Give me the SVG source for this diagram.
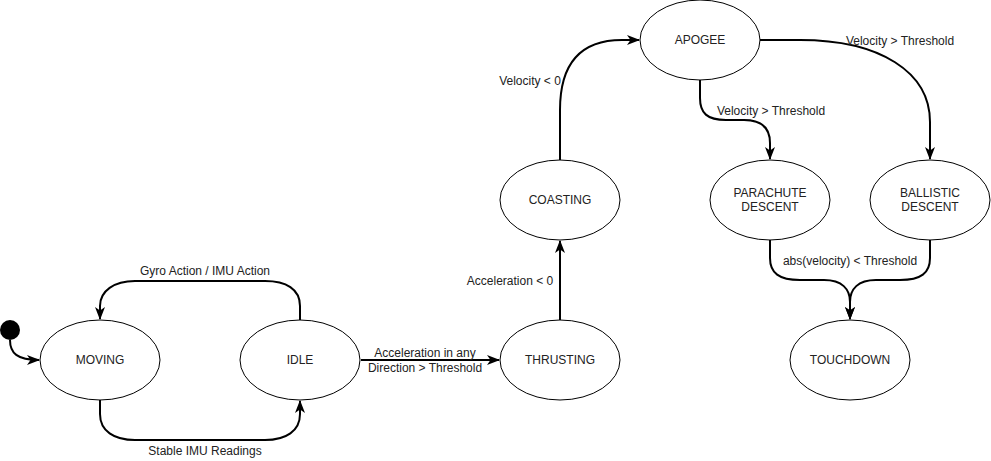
<svg xmlns="http://www.w3.org/2000/svg" width="991" height="461" viewBox="0 0 991 461">
<style>
.n{fill:#fff;stroke:#000;stroke-width:1}
.t{font-family:"Liberation Sans",Arial,sans-serif;font-size:12px;fill:#222;text-anchor:middle}
.l{font-family:"Liberation Sans",Arial,sans-serif;font-size:12px;fill:#222;text-anchor:middle}
.e{fill:none;stroke:#000;stroke-width:2;marker-end:url(#a)}
</style>
<defs>
<marker id="a" viewBox="0 0 13 10" refX="12" refY="5" markerWidth="6.5" markerHeight="5" markerUnits="strokeWidth" orient="auto">
<path d="M0,0 L13,5 L0,10 L3.5,5 Z" fill="#000"/>
</marker>
</defs>
<rect width="991" height="461" fill="#fff"/>
<g id="connectors">
<path class="e" d="M10,340 C10,353 17,360 39,360"/>
<path class="e" d="M300,320 L300,306 C300,289 286,281 265,281 L135,281 C114,281 100,291 100,306 L100,319"/>
<path class="e" d="M100,400 L100,414 C100,431 114,440 135,440 L265,440 C286,440 300,431 300,414 L300,401"/>
<path class="e" d="M361,360 L499,360"/>
<path class="e" d="M560,320 L560,241"/>
<path class="e" d="M560,160 L560,110 C560,62 582,40 622,40 L639,40"/>
<path class="e" d="M700,80 L700,98 C700,113 707,120 726,120 L744,120 C762,120 770,128 770,143 L770,159"/>
<path class="e" d="M760,40 L800,40 C880,40 930,72 930,122 L930,159"/>
<path class="e" d="M770,240 L770,258 C770,273 779,280 800,280 L824,280 C842,280 850,289 850,302 L850,319"/>
<path class="e" d="M930,240 L930,258 C930,273 921,280 900,280 L876,280 C858,280 850,289 850,302 L850,319"/>
</g>
<g id="labels">
<text class="l" x="205" y="275">Gyro Action / IMU Action</text>
<text class="l" x="205" y="455">Stable IMU Readings</text>
<text class="l" x="425" y="357">Acceleration in any</text>
<text class="l" x="425" y="372">Direction &gt; Threshold</text>
<text class="l" x="510" y="285">Acceleration &lt; 0</text>
<text class="l" x="530" y="85">Velocity &lt; 0</text>
<text class="l" x="771" y="115">Velocity &gt; Threshold</text>
<text class="l" x="900" y="45">Velocity &gt; Threshold</text>
<text class="l" x="850" y="265">abs(velocity) &lt; Threshold</text>
</g>
<g id="initial"><circle cx="10" cy="330" r="10" fill="#000"/></g>
<g id="moving"><ellipse class="n" cx="100" cy="360" rx="60" ry="40"/><text class="t" x="100" y="364">MOVING</text></g>
<g id="idle"><ellipse class="n" cx="300" cy="360" rx="60" ry="40"/><text class="t" x="300" y="364">IDLE</text></g>
<g id="thrusting"><ellipse class="n" cx="560" cy="360" rx="60" ry="40"/><text class="t" x="560" y="364">THRUSTING</text></g>
<g id="coasting"><ellipse class="n" cx="560" cy="200" rx="60" ry="40"/><text class="t" x="560" y="204">COASTING</text></g>
<g id="apogee"><ellipse class="n" cx="700" cy="40" rx="60" ry="40"/><text class="t" x="700" y="44">APOGEE</text></g>
<g id="parachute"><ellipse class="n" cx="770" cy="200" rx="60" ry="40"/><text class="t" x="770" y="197">PARACHUTE</text><text class="t" x="770" y="211">DESCENT</text></g>
<g id="ballistic"><ellipse class="n" cx="930" cy="200" rx="60" ry="40"/><text class="t" x="930" y="197">BALLISTIC</text><text class="t" x="930" y="211">DESCENT</text></g>
<g id="touchdown"><ellipse class="n" cx="850" cy="360" rx="60" ry="40"/><text class="t" x="850" y="364">TOUCHDOWN</text></g>
</svg>
